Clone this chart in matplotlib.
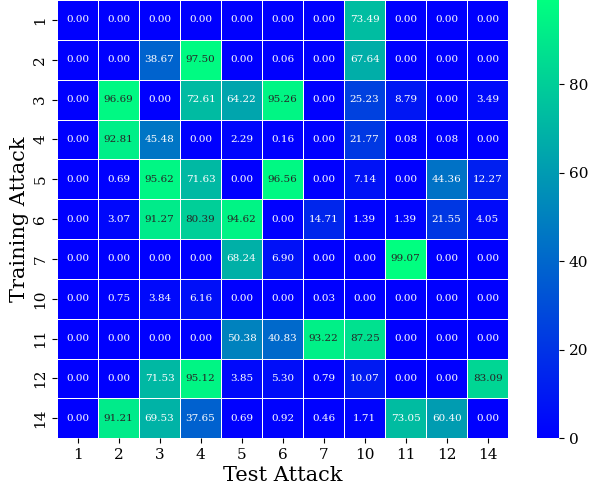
import matplotlib
matplotlib.use("Agg")
import matplotlib.pyplot as plt
import numpy as np
import seaborn as sns

train_labels = ["1", "2", "3", "4", "5", "6", "7", "10", "11", "12", "14"]
test_labels = ["1", "2", "3", "4", "5", "6", "7", "10", "11", "12", "14"]

row_1 = [0.00, 0.00, 0.00, 0.00, 0.00, 0.00, 0.00, 73.49, 0.00, 0.00, 0.00]
row_2 = [0.00, 0.00, 38.67, 97.50, 0.00, 0.06, 0.00, 67.64, 0.00, 0.00, 0.00]
row_3 = [0.00, 96.69, 0.00, 72.61, 64.22, 95.26, 0.00, 25.23, 8.79, 0.00, 3.49]
row_4 = [0.00, 92.81, 45.48, 0.00, 2.29, 0.16, 0.00, 21.77, 0.08, 0.08, 0.00]
row_5 = [0.00, 0.69, 95.62, 71.63, 0.00, 96.56, 0.00, 7.14, 0.00, 44.36, 12.27]
row_6 = [0.00, 3.07, 91.27, 80.39, 94.62, 0.00, 14.71, 1.39, 1.39, 21.55, 4.05]
row_7 = [0.00, 0.00, 0.00, 0.00, 68.24, 6.90, 0.00, 0.00, 99.07, 0.00, 0.00]
row_10 = [0.00, 0.75, 3.84, 6.16, 0.00, 0.00, 0.03, 0.00, 0.00, 0.00, 0.00]
row_11 = [0.00, 0.00, 0.00, 0.00, 50.38, 40.83, 93.22, 87.25, 0.00, 0.00, 0.00]
row_12 = [0.00, 0.00, 71.53, 95.12, 3.85, 5.30, 0.79, 10.07, 0.00, 0.00, 83.09]
row_14 = [0.00, 91.21, 69.53, 37.65, 0.69, 0.92, 0.46, 1.71, 73.05, 60.40, 0.00]

data = np.array([row_1, row_2, row_3, row_4, row_5, row_6, row_7,
                 row_10, row_11, row_12, row_14])

plt.rcParams['font.family'] = ['DejaVu Serif']

fig = plt.figure(figsize=(6, 4.88), dpi=100)
ax = fig.add_axes([0.095, 0.102, 0.752, 0.898])
cax = fig.add_axes([0.895, 0.102, 0.037, 0.898])

sns.heatmap(data, ax=ax, cbar_ax=cax, cmap="winter", annot=True, fmt=".2f",
            annot_kws={"size": 7.5}, linewidths=0.6, linecolor="white",
            xticklabels=test_labels, yticklabels=train_labels)

ax.set_xlabel("Test Attack", fontsize=15, labelpad=3)
ax.set_ylabel("Training Attack", fontsize=15, labelpad=3)
ax.tick_params(axis='both', labelsize=11)
ax.set_yticklabels(train_labels, rotation=90, va='center')
ax.set_xticklabels(test_labels, rotation=0)
cax.tick_params(labelsize=11)

fig.savefig("out.png", dpi=100)
